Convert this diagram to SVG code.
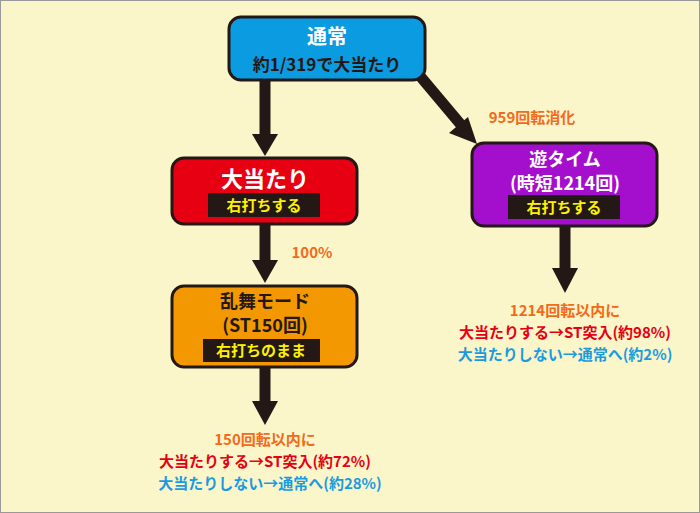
<svg xmlns="http://www.w3.org/2000/svg" width="700" height="513" viewBox="0 0 700 513">
<style>
text{font-family:"Noto Sans CJK JP","Noto Sans",sans-serif;font-weight:bold;text-anchor:middle}
.box{stroke:#231815;stroke-width:3}
.tag{fill:#231815}
.y{fill:#fff100;font-size:15px}
.o{fill:#f26a1c;font-size:15px}
.r{fill:#e60012;font-size:15px}
.b{fill:#1a9be0;font-size:15px}
.sh{stroke:#231815;stroke-width:11}
.hd{fill:#231815}
</style>
<rect x="0.5" y="0.5" width="699" height="512" fill="#faf6c9" stroke="#999" stroke-width="1"/>
<g id="connectors">
<line class="sh" x1="265" y1="80" x2="265" y2="138"/><polygon class="hd" points="252,134 278,134 265,156"/>
<line class="sh" x1="420" y1="76" x2="462" y2="126"/><polygon class="hd" points="449,133 468,117 477,144"/>
<line class="sh" x1="265" y1="224" x2="265" y2="264"/><polygon class="hd" points="252,260 278,260 265,283"/>
<line class="sh" x1="565" y1="226" x2="565" y2="272"/><polygon class="hd" points="552,268 578,268 565,293"/>
<line class="sh" x1="265" y1="367" x2="265" y2="405"/><polygon class="hd" points="252,401 278,401 265,425"/>
<text class="o" x="532" y="123">959回転消化</text>
<text class="o" x="312" y="258">100%</text>
</g>
<g id="n-normal">
<rect class="box" x="229" y="17" width="196" height="63" rx="12" fill="#0a9be0"/>
<text x="327" y="44" fill="#fff" font-size="20">通常</text>
<text x="327" y="71" fill="#231815" font-size="17">約1/319で大当たり</text>
</g>
<g id="n-hit">
<rect class="box" x="172" y="158" width="185" height="66" rx="12" fill="#e60012"/>
<text x="265" y="187" fill="#fff" font-size="22">大当たり</text>
<rect class="tag" x="208" y="193" width="112" height="24"/>
<text class="y" x="264" y="211">右打ちする</text>
</g>
<g id="n-yutime">
<rect class="box" x="472" y="143" width="185" height="83" rx="12" fill="#a40fce"/>
<text x="565" y="166" fill="#fff" font-size="18">遊タイム</text>
<text x="565" y="190" fill="#fff" font-size="18">(時短1214回)</text>
<rect class="tag" x="508" y="195" width="112" height="24"/>
<text class="y" x="564" y="213">右打ちする</text>
</g>
<g id="n-ranbu">
<rect class="box" x="172" y="286" width="185" height="81" rx="12" fill="#f39800"/>
<text x="265" y="308" fill="#231815" font-size="18">乱舞モード</text>
<text x="265" y="332" fill="#231815" font-size="18">(ST150回)</text>
<rect class="tag" x="203" y="339" width="117" height="23"/>
<text class="y" x="261" y="356">右打ちのまま</text>
</g>
<g id="t-right">
<text class="o" x="565" y="316">1214回転以内に</text>
<text class="r" x="565" y="338">大当たりする→ST突入(約98%)</text>
<text class="b" x="565" y="360">大当たりしない→通常へ(約2%)</text>
</g>
<g id="t-left">
<text class="o" x="265" y="445">150回転以内に</text>
<text class="r" x="265" y="467">大当たりする→ST突入(約72%)</text>
<text class="b" x="270" y="489">大当たりしない→通常へ(約28%)</text>
</g>
</svg>
